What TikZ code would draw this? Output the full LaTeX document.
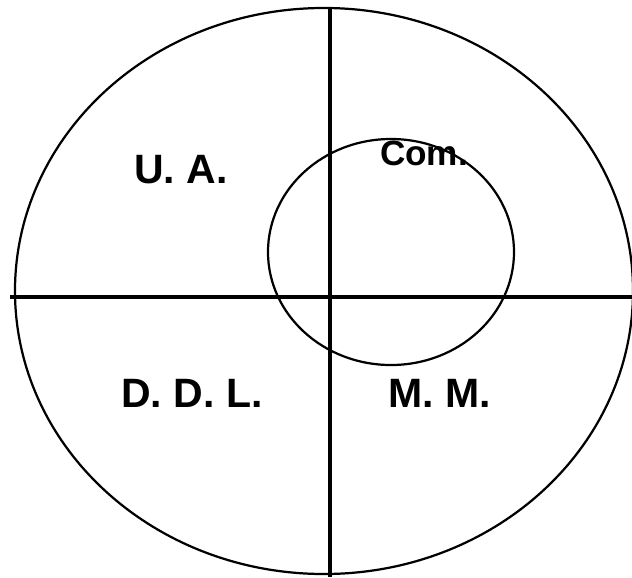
\documentclass[tikz,border=0pt]{standalone}
\usepackage{fontspec}
\setmainfont{Liberation Sans}
\usepackage{tikz}

\begin{document}
\begin{tikzpicture}[
  x=0.03cm, y=-0.03cm,
  rim/.style={draw, line width=1.9pt},
  axis/.style={draw, line width=2.8pt},
  lbl/.style={anchor=base, inner sep=0pt, font=\fontsize{35}{40}\selectfont\bfseries},
  smalllbl/.style={lbl, font=\fontsize{30}{34}\selectfont\bfseries}
]
\useasboundingbox (0,0) rectangle (632,577);

% outer ring and inner circle
\draw[rim] (324,291) ellipse [x radius=9.27cm, y radius=8.49cm];
\draw[rim] (391,252) ellipse [x radius=3.69cm, y radius=3.39cm];

% cross
\coordinate (top) at (330,8);
\coordinate (bot) at (330,577);
\coordinate (lft) at (10,297);
\coordinate (rgt) at (632,297);
\draw[axis] (top) -- (bot);
\draw[axis] (lft) -- (rgt);

% quadrant labels
\node[lbl] (ua) at (181,183) {U. A.};
\node[smalllbl] (com) at (424,165) {Com.};
\node[lbl] (ddl) at (192,407) {D. D. L.};
\node[lbl] (mm) at (440,407) {M. M.};
\end{tikzpicture}
\end{document}
